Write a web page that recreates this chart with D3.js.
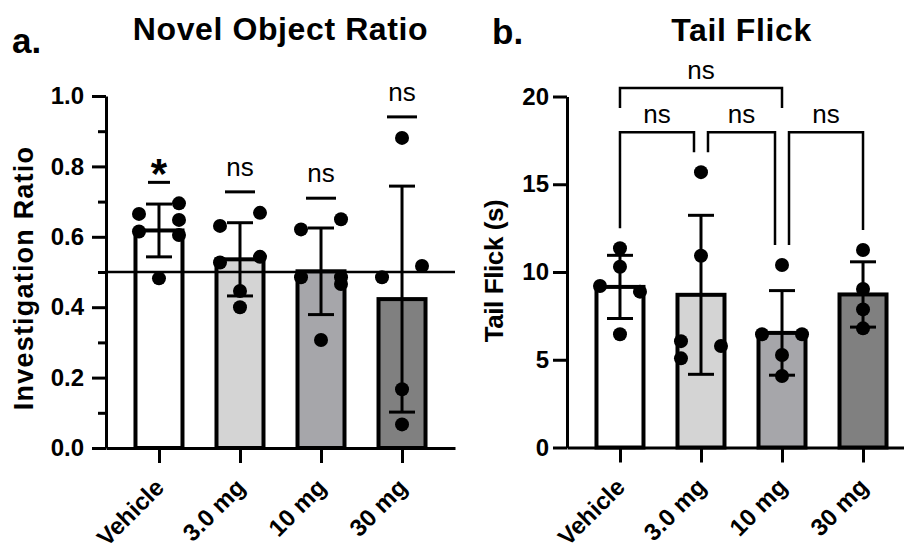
<!DOCTYPE html>
<html>
<head>
<meta charset="utf-8">
<script src="https://cdn.jsdelivr.net/npm/d3@7"></script>
<style>
  body { margin: 0; background: #fff; }
  text { font-family: "Liberation Sans", Arial, sans-serif; fill: #000; }
</style>
</head>
<body>
<div id="chart"></div>
<script>
// groups shared by both panels
var groups = ["Vehicle", "3.0 mg", "10 mg", "30 mg"];

// a. Novel Object Ratio
var novelMeans = [0.618, 0.536, 0.502, 0.423];
var novelSD = [0.075, 0.104, 0.123, 0.321];
var novelPoints = [
  [0.695, 0.665, 0.648, 0.615, 0.605, 0.482],
  [0.668, 0.631, 0.543, 0.527, 0.446, 0.400],
  [0.650, 0.621, 0.485, 0.485, 0.466, 0.307],
  [0.881, 0.517, 0.485, 0.167, 0.067]
];
var novelSig = ["*", "ns", "ns", "ns"];
var novelTicks = [0, 0.2, 0.4, 0.6, 0.8, 1.0];
var novelMinorTicks = [0.1, 0.3, 0.5, 0.7, 0.9];
var chanceLevel = 0.5;

// b. Tail Flick
var tailMeans = [9.15, 8.7, 6.53, 8.72];
var tailSD = [1.8, 4.53, 2.41, 1.86];
var tailPoints = [
  [11.35, 10.3, 9.2, 8.88, 6.45],
  [15.69, 10.93, 6.06, 5.78, 5.08],
  [10.4, 6.45, 6.45, 5.27, 4.07],
  [11.25, 9.03, 7.87, 6.79]
];
var tailTicks = [0, 5, 10, 15, 20];
// [from group, to group, label, bracket height in seconds]
var tailComparisons = [
  [0, 1, "ns", 17.97],
  [1, 2, "ns", 17.97],
  [2, 3, "ns", 17.97],
  [0, 2, "ns", 20.48]
];

var barFills = ["#ffffff", "#d4d4d4", "#a6a6aa", "#808080"];

var svg = d3.select("#chart").append("svg")
  .attr("width", 904)
  .attr("height", 550);

// spread points that sit close together to alternating sides
function swarmSlots(values, y, firstSide, gap) {
  var order = values.map(function(v, i) { return i; })
    .sort(function(a, b) { return values[b] - values[a]; });
  var slots = values.map(function() { return 0; });
  var cluster = [];
  function flush() {
    if (cluster.length > 1) {
      cluster.forEach(function(i, k) { slots[i] = k % 2 === 0 ? firstSide : -firstSide; });
    }
    cluster = [];
  }
  order.forEach(function(i, k) {
    if (k > 0 && Math.abs(y(values[i]) - y(values[order[k - 1]])) < gap) {
      cluster.push(i);
    } else {
      flush();
      cluster.push(i);
    }
  });
  flush();
  return slots;
}

function drawPanel(cfg) {
  var g = svg.append("g");

  var x = d3.scalePoint()
    .domain(groups)
    .range([cfg.left, cfg.left + 349])
    .padding(0.654);

  var y = d3.scaleLinear()
    .domain(cfg.domain)
    .range([cfg.bottom, cfg.top]);

  var barW = 47;

  // bars
  g.selectAll(".bar")
    .data(groups)
    .enter()
    .append("rect")
    .attr("x", function(d) { return x(d) - barW / 2; })
    .attr("y", function(d, i) { return y(cfg.means[i]); })
    .attr("width", barW)
    .attr("height", function(d, i) { return y(0) - y(cfg.means[i]); })
    .attr("fill", function(d, i) { return barFills[i]; })
    .attr("stroke", "#000")
    .attr("stroke-width", 4);

  // reference line
  if (cfg.refLine != null) {
    g.append("line")
      .attr("x1", cfg.left)
      .attr("x2", cfg.left + 349)
      .attr("y1", y(cfg.refLine))
      .attr("y2", y(cfg.refLine))
      .attr("stroke", "#000")
      .attr("stroke-width", 2.5);
  }

  // error bars (mean +/- SD)
  var capW = 26;
  groups.forEach(function(d, i) {
    var cx = x(d);
    var lo = y(cfg.means[i] - cfg.sd[i]);
    var hi = y(cfg.means[i] + cfg.sd[i]);
    g.append("line")
      .attr("x1", cx).attr("x2", cx)
      .attr("y1", lo).attr("y2", hi)
      .attr("stroke", "#000").attr("stroke-width", 3);
    [lo, hi].forEach(function(yy) {
      g.append("line")
        .attr("x1", cx - capW / 2).attr("x2", cx + capW / 2)
        .attr("y1", yy).attr("y2", yy)
        .attr("stroke", "#000").attr("stroke-width", 3);
    });
  });

  // individual points
  groups.forEach(function(d, i) {
    var vals = cfg.points[i];
    var slots = swarmSlots(vals, y, cfg.firstSide, 15);
    g.selectAll(".pt" + i)
      .data(vals)
      .enter()
      .append("circle")
      .attr("cx", function(v, k) { return x(d) + slots[k] * 20; })
      .attr("cy", function(v) { return y(v); })
      .attr("r", 7)
      .attr("fill", "#000");
  });

  // y axis
  var yAxis = g.append("g")
    .attr("transform", "translate(" + cfg.left + ",0)")
    .call(d3.axisLeft(y)
      .tickValues(cfg.ticks)
      .tickSize(14)
      .tickSizeOuter(0)
      .tickPadding(cfg.tickPad)
      .tickFormat(cfg.format));
  yAxis.select(".domain").attr("stroke-width", 3);
  yAxis.selectAll(".tick line").attr("stroke-width", 3);
  yAxis.selectAll(".tick text")
    .style("font-size", "24px")
    .style("font-weight", "bold");

  if (cfg.minorTicks) {
    var minor = g.append("g")
      .attr("transform", "translate(" + cfg.left + ",0)")
      .call(d3.axisLeft(y)
        .tickValues(cfg.minorTicks)
        .tickSize(8)
        .tickSizeOuter(0)
        .tickFormat(""));
    minor.select(".domain").remove();
    minor.selectAll(".tick line").attr("stroke-width", 3);
  }

  // x axis
  var xAxis = g.append("g")
    .attr("transform", "translate(0," + y(0) + ")")
    .call(d3.axisBottom(x).tickSize(15).tickSizeOuter(0));
  xAxis.select(".domain").attr("stroke-width", 3);
  xAxis.selectAll(".tick line").attr("stroke-width", 3);
  xAxis.selectAll(".tick text")
    .attr("x", 0)
    .attr("y", 0)
    .attr("dy", 0)
    .attr("transform", "translate(6,41) rotate(-45)")
    .style("text-anchor", "end")
    .style("font-size", "24px")
    .style("font-weight", "bold");

  // axis title
  g.append("text")
    .attr("transform", "translate(" + cfg.yLabelX + "," + cfg.yLabelY + ") rotate(-90)")
    .attr("text-anchor", "middle")
    .style("font-size", cfg.yLabelSize + "px")
    .style("font-weight", "bold")
    .style("letter-spacing", cfg.yLabelSpacing + "px")
    .text(cfg.yLabel);

  // chart title and panel letter
  g.append("text")
    .attr("x", cfg.left + 349 / 2)
    .attr("y", cfg.titleY)
    .attr("text-anchor", "middle")
    .style("font-size", "32px")
    .style("font-weight", "bold")
    .style("letter-spacing", "0.6px")
    .text(cfg.title);

  g.append("text")
    .attr("x", cfg.letterX)
    .attr("y", cfg.letterY)
    .style("font-size", "35px")
    .style("font-weight", "bold")
    .text(cfg.letter);

  return { g: g, x: x, y: y };
}

// panel a
var a = drawPanel({
  left: 106, top: 96, bottom: 448, domain: [0, 1],
  means: novelMeans, sd: novelSD, points: novelPoints,
  ticks: novelTicks, minorTicks: novelMinorTicks, tickPad: 8,
  format: d3.format(".1f"), refLine: chanceLevel, firstSide: 1,
  yLabel: "Investigation Ratio", yLabelX: 33, yLabelY: 278, yLabelSize: 27, yLabelSpacing: 1.2,
  title: "Novel Object Ratio", titleY: 40, letter: "a.", letterX: 12, letterY: 53
});

// significance marks over each group
groups.forEach(function(d, i) {
  var cx = a.x(d);
  var lineY = a.y(d3.max(novelPoints[i])) - 21;
  var star = novelSig[i] === "*";
  var w = star ? 22 : 30;
  a.g.append("line")
    .attr("x1", cx - w / 2).attr("x2", cx + w / 2)
    .attr("y1", lineY).attr("y2", lineY)
    .attr("stroke", "#000").attr("stroke-width", 3);
  a.g.append("text")
    .attr("x", cx)
    .attr("y", star ? lineY + 6 : lineY - 16)
    .attr("text-anchor", "middle")
    .style("font-size", star ? "42px" : "26px")
    .style("font-weight", star ? "bold" : "normal")
    .text(novelSig[i]);
});

// panel b
var b = drawPanel({
  left: 567, top: 96.5, bottom: 447.5, domain: [0, 20],
  means: tailMeans, sd: tailSD, points: tailPoints,
  ticks: tailTicks, minorTicks: null, tickPad: 4,
  format: d3.format("d"), refLine: null, firstSide: -1,
  yLabel: "Tail Flick (s)", yLabelX: 503, yLabelY: 271, yLabelSize: 26, yLabelSpacing: -0.4,
  title: "Tail Flick", titleY: 41, letter: "b.", letterX: 492, letterY: 44
});

// comparison brackets
tailComparisons.forEach(function(c, k) {
  var from = c[0], to = c[1], label = c[2];
  var yy = b.y(c[3]);
  var sameLevel = tailComparisons.filter(function(o, j) { return j !== k && o[3] === c[3]; });
  var shared = function(grp) {
    return sameLevel.some(function(o) { return o[0] === grp || o[1] === grp; });
  };
  var nested = tailComparisons.some(function(o) { return o[3] < c[3]; });
  var x1 = b.x(groups[from]) + (shared(from) ? 7 : 0);
  var x2 = b.x(groups[to]) - (shared(to) ? 7 : 0);
  var legEnd = function(grp) {
    return nested ? yy + 20 : b.y(d3.max(tailPoints[grp])) - 20;
  };
  b.g.append("path")
    .attr("d", "M" + x1 + "," + legEnd(from) + "V" + yy + "H" + x2 + "V" + legEnd(to))
    .attr("fill", "none")
    .attr("stroke", "#000")
    .attr("stroke-width", 2.5);
  b.g.append("text")
    .attr("x", (x1 + x2) / 2)
    .attr("y", yy - 9)
    .attr("text-anchor", "middle")
    .style("font-size", "26px")
    .text(label);
});
</script>
</body>
</html>
